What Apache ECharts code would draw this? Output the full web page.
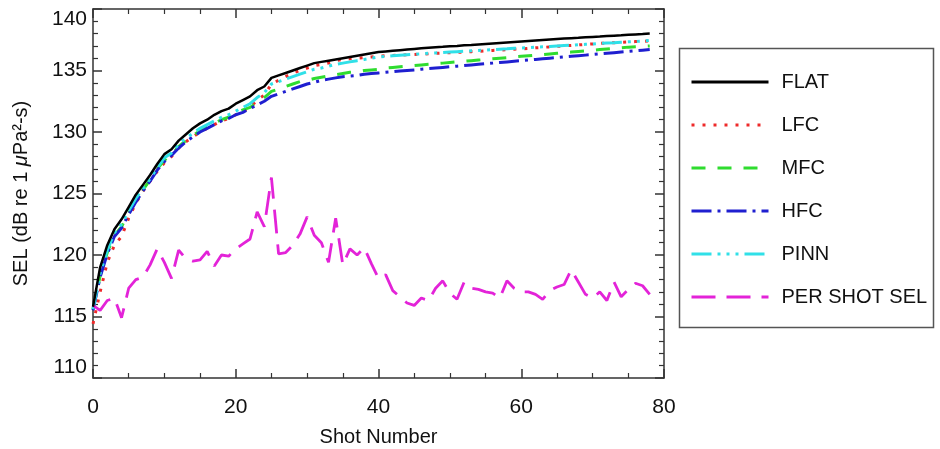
<!DOCTYPE html>
<html><head><meta charset="utf-8">
<script src="https://cdn.jsdelivr.net/npm/echarts@6/dist/echarts.min.js"></script>
<style>html,body{margin:0;padding:0;background:#fff}#c{width:940px;height:449px}</style>
</head><body><div id="c"></div>
<script>
const seriesNames = ['FLAT', 'LFC', 'MFC', 'HFC', 'PINN', 'PER SHOT SEL'];
const xTicks = [0, 20, 40, 60, 80];
const yTicks = [110, 115, 120, 125, 130, 135, 140];

const flat = [115.8, 119.0, 120.8, 122.1, 122.9, 123.9, 124.9, 125.7, 126.5, 127.4,
  128.2, 128.6, 129.3, 129.8, 130.3, 130.7, 131.0, 131.4, 131.7, 131.9,
  132.3, 132.6, 132.9, 133.4, 133.7, 134.4, 134.6, 134.8, 135.0, 135.2,
  135.4, 135.6, 135.7, 135.8, 135.9, 136.0, 136.1, 136.2, 136.3, 136.4,
  136.5, 136.55, 136.6, 136.65, 136.7, 136.75, 136.8, 136.85, 136.9, 136.93,
  136.97, 137.0, 137.05, 137.08, 137.12, 137.16, 137.2, 137.24, 137.28, 137.32,
  137.36, 137.4, 137.44, 137.48, 137.52, 137.56, 137.6, 137.63, 137.66, 137.7,
  137.73, 137.76, 137.8, 137.83, 137.86, 137.9, 137.93, 137.96, 138.0];

const lfc = [114.4, 117.0, 119.4, 120.8, 121.5, 123.0, 124.2, 125.2, 126.0, 126.8,
  127.5, 128.0, 128.7, 129.2, 129.6, 130.0, 130.3, 130.6, 130.9, 131.1,
  131.4, 131.7, 132.0, 132.6, 133.0, 133.9, 134.2, 134.5, 134.8, 135.0,
  135.2, 135.4, 135.5, 135.6, 135.8, 135.9, 135.95, 136.0, 136.05, 136.1,
  136.15, 136.2, 136.22, 136.25, 136.28, 136.3, 136.33, 136.36, 136.4, 136.42,
  136.45, 136.48, 136.5, 136.53, 136.56, 136.6, 136.63, 136.66, 136.7, 136.73,
  136.76, 136.8, 136.84, 136.88, 136.92, 136.96, 137.0, 137.04, 137.08, 137.12,
  137.16, 137.2, 137.23, 137.26, 137.29, 137.32, 137.35, 137.38, 137.4];

const mfc = [115.6, 118.3, 120.2, 121.6, 122.3, 123.4, 124.4, 125.3, 126.1, 127.0,
  127.7, 128.2, 128.8, 129.3, 129.7, 130.1, 130.4, 130.7, 131.0, 131.2,
  131.5, 131.8, 132.0, 132.4, 132.8, 133.3, 133.5, 133.7, 133.9, 134.1,
  134.2, 134.35, 134.45, 134.55, 134.65, 134.75, 134.85, 134.9, 135.0, 135.05,
  135.1, 135.2, 135.25, 135.3, 135.35, 135.4, 135.45, 135.5, 135.55, 135.6,
  135.65, 135.7, 135.75, 135.8, 135.85, 135.9, 135.95, 136.0, 136.05, 136.1,
  136.15, 136.2, 136.25, 136.3, 136.35, 136.4, 136.45, 136.5, 136.55, 136.6,
  136.65, 136.7, 136.75, 136.8, 136.85, 136.9, 136.93, 136.96, 137.0];

const hfc = [115.5, 118.2, 120.1, 121.5, 122.2, 123.3, 124.3, 125.2, 126.0, 126.9,
  127.6, 128.1, 128.7, 129.2, 129.6, 130.0, 130.3, 130.6, 130.9, 131.1,
  131.4, 131.6, 131.9, 132.2, 132.5, 132.9, 133.1, 133.3, 133.5, 133.7,
  133.9, 134.05, 134.2, 134.3, 134.4, 134.5, 134.55, 134.6, 134.7, 134.75,
  134.8, 134.85, 134.9, 134.95, 135.0, 135.05, 135.1, 135.15, 135.2, 135.25,
  135.3, 135.35, 135.4, 135.45, 135.5, 135.55, 135.6, 135.65, 135.7, 135.75,
  135.8, 135.85, 135.9, 135.95, 136.0, 136.05, 136.1, 136.15, 136.2, 136.25,
  136.3, 136.35, 136.4, 136.45, 136.5, 136.55, 136.6, 136.65, 136.7];

const pinn = [115.6, 118.5, 120.4, 121.8, 122.5, 123.6, 124.6, 125.4, 126.2, 127.1,
  127.9, 128.3, 129.0, 129.5, 129.9, 130.3, 130.6, 130.9, 131.2, 131.4,
  131.7, 132.0, 132.3, 132.8, 133.2, 133.9, 134.1, 134.3, 134.5, 134.7,
  134.9, 135.1, 135.2, 135.35, 135.5, 135.6, 135.7, 135.8, 135.9, 136.0,
  136.1, 136.15, 136.2, 136.24, 136.28, 136.32, 136.36, 136.4, 136.43, 136.46,
  136.5, 136.53, 136.56, 136.6, 136.63, 136.66, 136.7, 136.73, 136.76, 136.8,
  136.83, 136.86, 136.9, 136.93, 136.96, 137.0, 137.03, 137.06, 137.1, 137.13,
  137.16, 137.2, 137.23, 137.26, 137.3, 137.33, 137.36, 137.4, 137.45];

const perShot = [115.9, 115.5, 116.3, 116.5, 114.9, 117.3, 118.0, 118.2, 119.2, 120.5,
  119.4, 118.1, 120.4, 119.7, 119.5, 119.6, 120.3, 119.1, 120.0, 119.9,
  120.5, 120.9, 121.3, 123.5, 122.3, 126.3, 120.1, 120.2, 120.8, 121.7,
  123.1, 121.6, 121.0, 119.4, 123.0, 119.2, 120.5, 120.0, 120.6, 119.3,
  118.1, 118.4, 117.1, 116.6, 116.1, 115.9, 116.5, 116.3, 117.3, 117.9,
  116.9, 116.4, 117.8, 117.3, 117.2, 117.0, 116.9, 116.5, 117.9, 117.3,
  117.0, 117.0, 116.8, 116.4, 117.1, 117.4, 117.6, 118.8, 117.8, 116.8,
  116.5, 117.0, 116.3, 117.8, 116.6, 117.2, 117.7, 117.5, 116.8];

const FONT = '"Liberation Sans", Arial, Helvetica, sans-serif';
const toPairs = arr => arr.map((v, i) => [i, v]);

const styles = [
  { color: '#000000', type: 'solid', width: 2.5 },
  { color: '#ee2a2a', type: [3, 8], width: 3 },
  { color: '#2fdc2f', type: [14, 12], width: 3 },
  { color: '#1f1fd0', type: [20, 6, 3, 6], width: 3 },
  { color: '#30e0e8', type: [20, 6, 3, 6, 3, 6, 3, 6], width: 3 },
  { color: '#e323d8', type: [24, 11], width: 2.8 }
];
const dataSets = [flat, lfc, mfc, hfc, pinn, perShot];

const axisLineStyle = { color: '#333', width: 1.5 };
function xAx(pos, showLabel) {
  return {
    type: 'value', position: pos, min: xTicks[0], max: xTicks[xTicks.length - 1], interval: 20,
    axisLine: { show: true, onZero: false, lineStyle: axisLineStyle },
    axisTick: { show: true, inside: true, length: 9, lineStyle: axisLineStyle },
    minorTick: { show: true, splitNumber: 4, length: 5, lineStyle: { color: '#333', width: 1.2 } },
    splitLine: { show: false },
    axisLabel: { show: showLabel, fontSize: 21, color: '#111', margin: 19, fontFamily: FONT },
    name: showLabel ? 'Shot Number' : '',
    nameLocation: 'middle', nameGap: 49,
    nameTextStyle: { fontSize: 20, color: '#111', fontFamily: FONT }
  };
}
function yAx(pos, showLabel) {
  return {
    type: 'value', position: pos, min: yTicks[0], max: yTicks[yTicks.length - 1], interval: 5,
    axisLine: { show: true, onZero: false, lineStyle: axisLineStyle },
    axisTick: { show: true, inside: true, length: 9, lineStyle: axisLineStyle },
    minorTick: { show: true, splitNumber: 5, length: 5, lineStyle: { color: '#333', width: 1.2 } },
    splitLine: { show: false },
    axisLabel: { show: showLabel, fontSize: 21, color: '#111', margin: 6, fontFamily: FONT,
      verticalAlignMaxLabel: 'top', verticalAlignMinLabel: 'bottom' },
    name: showLabel ? '{a|SEL (dB re 1 }{i|\u03bc}{a|Pa\u00b2-s)}' : '',
    nameLocation: 'middle', nameGap: 62, nameRotate: 90,
    nameTextStyle: { fontSize: 20, color: '#111', fontFamily: FONT,
      rich: { a: { fontSize: 20, color: '#111', fontFamily: FONT },
              i: { fontSize: 20, color: '#111', fontStyle: 'italic', fontFamily: FONT } } }
  };
}

const chart = echarts.init(document.getElementById('c'), null, { renderer: 'canvas' });
chart.setOption({
  animation: false,
  backgroundColor: '#ffffff',
  grid: { left: 93, right: 276, top: 9, bottom: 71, containLabel: false, outerBoundsMode: 'none' },
  xAxis: [xAx('bottom', true), xAx('top', false)],
  yAxis: [yAx('left', true), yAx('right', false)],
  legend: {
    orient: 'vertical', left: 690, top: 72, padding: 0,
    itemWidth: 77, itemHeight: 20, itemGap: 23,
    itemStyle: { opacity: 0, borderWidth: 0 },
    lineStyle: { width: 3 },
    textStyle: { fontSize: 20, color: '#111', fontFamily: FONT, padding: [0, 0, 0, 8] },
    data: seriesNames
  },
  graphic: [{
    type: 'rect', left: 677, top: 46,
    shape: { width: 254, height: 279 },
    style: { fill: 'none', stroke: '#555', lineWidth: 1.5 }
  }],
  series: seriesNames.map((n, k) => ({
    name: n, type: 'line', xAxisIndex: 0, yAxisIndex: 0,
    data: toPairs(dataSets[k]),
    symbol: 'none', showSymbol: false, smooth: false,
    z: k === 0 ? 10 : 5,
    itemStyle: { color: styles[k].color },
    lineStyle: { color: styles[k].color, type: styles[k].type, width: styles[k].width, cap: 'butt', opacity: 1 }
  }))
});
</script></body></html>
